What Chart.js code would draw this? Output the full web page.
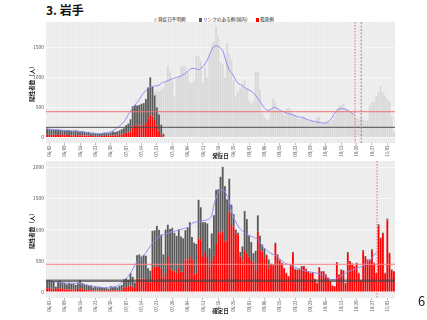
<!DOCTYPE html>
<html>
<head>
<meta charset="utf-8">
<script src="https://cdn.jsdelivr.net/npm/chart.js@4.4.1/dist/chart.umd.min.js"></script>
<style>
  body { margin: 0; width: 427px; height: 320px; background: #fff; position: relative; overflow: hidden;
         font-family: "Noto Sans CJK JP", "Noto Sans", sans-serif; }
  #title { position: absolute; left: 46px; top: 1px; font-size: 12px; font-weight: bold; color: #111; }
  .lg { position: absolute; top: 16px; font-size: 4.6px; color: #222; white-space: nowrap; line-height: 6px; }
  .lg i { display: inline-block; width: 3px; height: 4.5px; margin-right: 1px; vertical-align: -1px; }
  #page { position: absolute; left: 418px; top: 291px; font-size: 13px; color: #222; }
  canvas { position: absolute; left: 0; }
  #top { top: 0; }
  #bottom { top: 155px; }
</style>
</head>
<body>
<div id="title">3. 岩手</div>
<div class="lg" style="left:154px"><i style="background:#d9d9d9"></i>発症日不明例</div>
<div class="lg" style="left:199px"><i style="background:#595959"></i>リンクのある例(国内)</div>
<div class="lg" style="left:256px"><i style="background:#ff0000"></i>孤発例</div>
<canvas id="top" width="427" height="162"></canvas>
<canvas id="bottom" width="427" height="165"></canvas>
<div id="page">6</div>

<script>
    // days 06/01 .. 11/06
    const months = [['06', 30], ['07', 31], ['08', 31], ['09', 30], ['10', 31], ['11', 6]]
    const days = []
    for (const [m, n] of months) {
        for (let d = 1; d <= n; d++) days.push(m + '/' + String(d).padStart(2, '0'))
    }
    const tickLabels = ['06/02','06/09','06/16','06/23','06/30','07/07','07/14','07/21','07/28','08/04','08/11',
        '08/18','08/25','09/01','09/08','09/15','09/22','09/29','10/06','10/13','10/20','10/27','11/03']
    const topYTicks = [0, 500, 1000, 1500]
    const botYTicks = [0, 500, 1000, 1500, 2000]

    // top panel: by onset date (from 06/01)
    const topSporadic = [45,40,42,38,44,40,38, 42,36,40,38,32,35,40, 34,30,32,28,26,30,22, 25,20,22,18,24,26,22,
        24,28,30,32,35,45,50, 60,75,85,95,180,190, 200,195,200,210,240,320, 380,350,290,200,110,50,15]
    const topLinked = [103,95,86,87,86,82,87, 78,79,78,84,73,73,78, 76,70,70,67,62,60,56, 55,52,46,42,46,52,53,
        46,54,65,56,65,70,85, 90,125,145,205,340,350, 330,345,360,360,400,510, 620,490,410,300,270,160,45]
    // onset unknown, from 07/20
    const topUnknownStart = '07/20'
    const topUnknown = [60,280,380,590,770, 930,1200,1100,950,680,980,1020,1180,1200,1180, 1100,920,900,940,1370,1350,1280,920,1170,1000,
        1400,1550,1600,1850,1680,1250,1220,1000,1570,1400, 1300,960,680,760,820,900,950,800,620,560,
        600,1100,1090,800,400,340,300,300,450,650, 600,500,420,400,370,480,500,460,380,360,
        330,300,320,350,300,260,300,280,250,330, 350,230,220,240,260,250,290,350,480,520,
        540,560,500,430,420,400,380,320,300,330, 300,280,280,540,580,590,690,760,860,750,
        700,640,600,350,90]
    const topAvg = [140,138,135,132,128,125,122,118,115,112, 110,108,105,102,98,94,90,86,80,74,
        68,62,58,58,60,64,68,74,82,90, 110,135,160,190,220,260,310,380,440,490,
        540,580,630,690,740,780,820,840,850,855, 860,870,900,920,930,945,960,975,990,1000,
        1010,1025,1045,1070,1100,1130,1150,1150,1140,1130, 1150,1180,1230,1290,1380,1460,1510,1528,1515,1490,
        1450,1330,1220,1120,1080,1020,950,905,880,860, 830,810,790,770,740,700,650,600,540,490,
        460,450,470,492,495,480,455,435,420,405, 395,385,375,360,345,338,333,320,305,290,
        280,270,262,255,250,242,238,240,258,290, 340,400,440,470,480,475,462,450,425,400,378]

    // bottom panel: by confirmation date (from 06/01)
    const botSporadic = [55,60,50,48,30,55,50, 45,40,35,42,38,40,30, 45,55,40,30,28,25,25, 18,22,20,22,18,15,20,
        12,25,22,25,20,30,35, 70,75,80,100,80,60,210, 200,210,215,200,160,150,380, 400,410,400,380,240,300,560,
        380,340,330,300,380,330,320, 520,510,560,520,280,300,860, 830,560,640,560,400,510,590,
        780,960,940,970,810,830,1290, 1075,1050,940,910,565,485,670, 620,565,510,485,350,970,670,
        645,540,590,376,430,425, 770,590,505,455,375,296,245, 425,620,360,350,360,400,400,
        360,320,296,305,202,138,385, 320,322,270,218,165,96,86, 462,270,348,338,138,622,480,
        442,400,452,296,180,650,558, 505,505,662,452,296,1060,850, 930,296,1150,610,348,318]
    const botLinked = [130,130,130,122,50,120,135, 105,100,85,103,87,95,80, 105,135,100,90,82,70,75, 52,63,55,58,52,45,55,
        38,65,58,60,50,65,75, 130,140,110,200,160,90,380, 400,360,375,380,220,190,600, 590,650,600,540,360,700,520,
        630,690,620,600,620,560,540, 470,520,560,360,510,470,620, 530,560,480,540,300,430,640,
        860,690,910,1040,890,660,530, 325,200,60,40,75,245,630, 550,335,290,135,310,260,230,
        115,160,10,144,20,15, 20,12,16,13,12,10,8, 16,20,11,10,11,14,14,
        11,13,10,12,8,7,13, 13,11,10,8,7,6,5, 16,10,12,11,7,18,15,
        15,14,16,10,8,22,17, 16,16,21,16,10,26,21, 22,10,27,19,12,12]
    const botAvg = [172,170,168,165,160,155,150,145,142,140, 140,138,136,135,133,130,126,120,112,104,
        96,90,84,78,74,70,68,66,66,68, 72,80,95,118,150,180,210,250,300,360,
        430,480,515,555,590,630,680,730,780,830, 860,885,905,920,930,945,955,965,975,985,
        995,1005,1015,1025,1035,1060,1100,1115,1125,1130, 1140,1145,1150,1160,1175,1230,1400,1520,1600,1635,
        1640,1620,1540,1460,1300,1200,1120,1060,1010,980, 950,930,910,895,880,860,840,800,740,700,
        670,640,620,600,585,560,530,500,470,450, 440,425,410,395,380,368,355,342,332,325,
        318,312,305,298,290,280,265,245,225,205, 195,200,215,240,260,280,300,320,335,350,
        365,380,392,400,420,445,475,505,545,590,630]

    Chart.defaults.font.family = '"Noto Sans CJK JP", "Noto Sans", sans-serif'
    Chart.defaults.animation = false

    const RED = '#ff0000', DARK = '#595959', LIGHT = '#d9d9d9', AVG = '#8c8cf5'

    // panel background + reference lines
    const panelPlugin = {
        id: 'panel',
        beforeDraw(chart) {
            const {ctx, chartArea: a} = chart
            ctx.save()
            ctx.fillStyle = '#ebebeb'
            ctx.fillRect(a.left, a.top, a.width, a.height)
            ctx.restore()
        },
        afterDatasetsDraw(chart, args, opts) {
            const {ctx, chartArea: a, scales: {x, y}} = chart
            ctx.save()
            for (const h of opts.hLines) {
                const py = y.getPixelForValue(h.value)
                ctx.strokeStyle = h.color
                ctx.lineWidth = h.width
                ctx.setLineDash([])
                ctx.beginPath(); ctx.moveTo(a.left, py); ctx.lineTo(a.right, py); ctx.stroke()
            }
            for (const v of opts.vLines) {
                const px = x.getPixelForValue(v.at)
                ctx.strokeStyle = v.color
                ctx.lineWidth = v.width
                ctx.setLineDash(v.dash)
                ctx.beginPath(); ctx.moveTo(px, a.top); ctx.lineTo(px, a.bottom); ctx.stroke()
            }
            ctx.restore()
        }
    }

    const barDs = (label, data, color) => ({
        type: 'bar', label, data, backgroundColor: color, stack: 's', order: 1,
        barPercentage: 0.82, categoryPercentage: 1.0
    })
    const lineDs = (data) => ({
        type: 'line', label: 'avg', data, borderColor: AVG, borderWidth: 1, pointRadius: 0,
        tension: 0.4, stack: 'avg', order: 0
    })

    const makeChart = (id, datasets, o) => new Chart(document.getElementById(id), {
        data: {labels: days, datasets},
        plugins: [panelPlugin],
        options: {
            responsive: false,
            devicePixelRatio: 1,
            layout: {padding: {left: 0, right: 32, top: o.padTop, bottom: 0}},
            plugins: {
                legend: {display: false},
                tooltip: {enabled: false},
                panel: {hLines: o.hLines, vLines: o.vLines}
            },
            scales: {
                x: {
                    stacked: true,
                    offset: true,
                    border: {display: false},
                    grid: {
                        offset: false,
                        color: 'rgba(255,255,255,0.5)',
                        lineWidth: 0.5,
                        tickLength: 2,
                        tickColor: (c) => (c.tick && c.tick.label) ? '#777' : 'rgba(0,0,0,0)'
                    },
                    ticks: {
                        autoSkip: false, minRotation: 90, maxRotation: 90,
                        font: {size: 4.3}, color: '#666', padding: 0.5,
                        callback: (v, i) => tickLabels.includes(days[i]) ? days[i] : ''
                    },
                    title: {display: true, text: o.xTitle, color: '#222',
                        font: {size: 5.5, weight: 'bold'}, padding: {top: 0, bottom: o.xTitlePad}},
                    afterFit: (s) => { s.height = o.xHeight }
                },
                y: {
                    stacked: true,
                    min: o.yMin, max: o.yMax,
                    border: {display: false},
                    grid: {color: 'rgba(255,255,255,0.9)', lineWidth: 0.6, drawTicks: false},
                    ticks: {font: {size: 5}, color: '#555', padding: 2, callback: (v) => String(v)},
                    afterBuildTicks: (s) => { s.ticks = o.yTicks.map(v => ({value: v})) },
                    title: {display: true, text: '陽性者数（人）', color: '#222',
                        font: {size: 5.5, weight: 'bold'}, padding: {top: 28.5, bottom: 0}},
                    afterFit: (s) => { s.width = 46 }
                }
            }
        }
    })

    const unknownFrom = days.indexOf(topUnknownStart)
    makeChart('top', [
        barDs('孤発例', topSporadic, RED),
        barDs('リンクのある例(国内)', topLinked, DARK),
        barDs('発症日不明例', topUnknown.map((v, k) => ({x: days[unknownFrom + k], y: v})), LIGHT),
        lineDs(topAvg)
    ], {
        padTop: 22, xHeight: 19, xTitle: '発症日', xTitlePad: 2.5, yMin: -95, yMax: 1925, yTicks: topYTicks,
        hLines: [{value: 427, color: '#f07070', width: 1}, {value: 167, color: '#4d4d4d', width: 1}],
        vLines: [{at: 140.3, color: '#e05050', width: 0.8, dash: [1.5, 1.5]},
                 {at: 143.1, color: '#8a8a8a', width: 1, dash: [2, 1.5]}]
    })

    makeChart('bottom', [
        barDs('孤発例', botSporadic, RED),
        barDs('リンクのある例(国内)', botLinked, DARK),
        lineDs(botAvg)
    ], {
        padTop: 6, xHeight: 22, xTitle: '確定日', xTitlePad: 5.5, yMin: -100, yMax: 2105, yTicks: botYTicks,
        hLines: [{value: 442, color: '#ff8080', width: 1}, {value: 177, color: 'rgba(70,70,70,0.7)', width: 2.5}],
        vLines: [{at: 150.3, color: '#e05050', width: 0.8, dash: [1.5, 1.5]}]
    })
</script>
</body>
</html>
